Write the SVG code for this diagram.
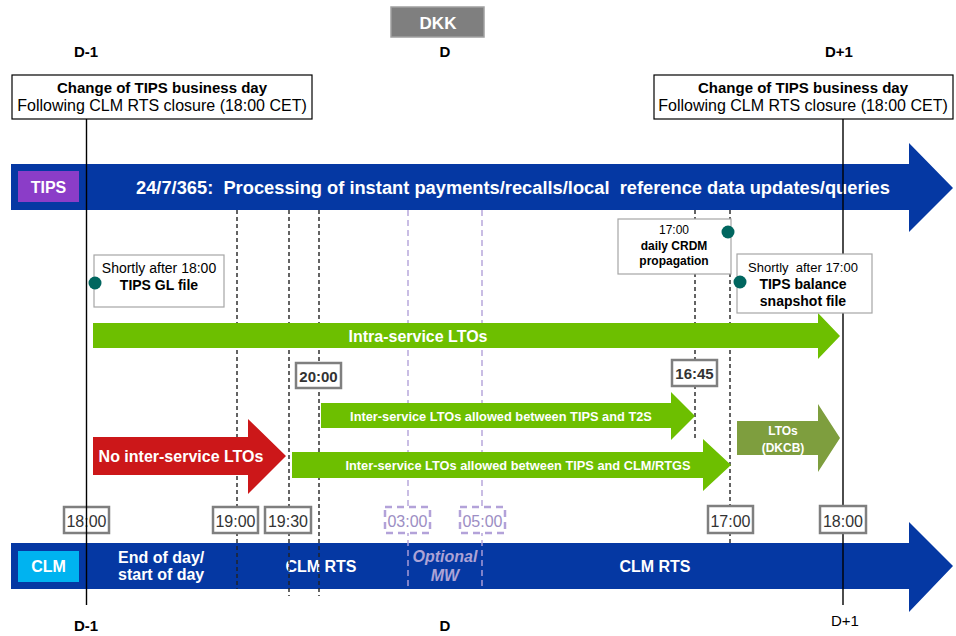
<svg xmlns="http://www.w3.org/2000/svg" width="956" height="636" viewBox="0 0 956 636">
<style>
text{font-family:"Liberation Sans",Arial,sans-serif;}
.b{font-weight:bold;}
.w{fill:#fff;}
.blue{fill:#0538A3;}
.green{fill:#6DBF00;}
.tb{fill:#fff;stroke:#7F7F7F;stroke-width:2.5;}
.tbp{fill:#fff;stroke:#B3A2D9;stroke-width:2.5;stroke-dasharray:7,5;}
.info{fill:#fff;stroke:#A6A6A6;stroke-width:1.2;}
.dot{fill:#00665F;}
.dk{stroke:#222;stroke-width:1.4;stroke-dasharray:4,3;fill:none;}
.dp{stroke:#B3A2D9;stroke-width:1.4;stroke-dasharray:6,4;fill:none;}
.sl{stroke:#000;stroke-width:1.4;fill:none;}
</style>

<g id="dkk">
<rect x="391" y="7" width="93" height="30" fill="#7F7F7F" stroke="#A0A0A0" stroke-width="1.5"/>
<text x="438" y="29" class="b w" font-size="17" text-anchor="middle">DKK</text>
</g>

<g id="day-labels" class="b" font-size="15" text-anchor="middle">
<text x="86" y="57">D-1</text>
<text x="445" y="57">D</text>
<text x="839" y="57">D+1</text>
<text x="86" y="631">D-1</text>
<text x="445" y="631">D</text>
<text x="845" y="626" font-weight="normal">D+1</text>
</g>

<g id="tips-bar">
<polygon class="blue" points="11,164 909,164 909,143 953,188 909,232 909,210 11,210"/>
<rect x="18" y="171" width="61" height="31" fill="#8B3DC8"/>
<text x="48.5" y="193" class="b w" font-size="16" text-anchor="middle">TIPS</text>
<text x="136" y="194" class="b w" font-size="18.3">24/7/365:&#160; Processing of instant payments/recalls/local&#160; reference data updates/queries</text>
</g>

<g id="clm-bar">
<polygon class="blue" points="11,543 909,543 909,522 953,566 909,612 909,589 11,589"/>
<rect x="18" y="551" width="61" height="31" fill="#00B3F0"/>
<text x="48.5" y="572" class="b w" font-size="16" text-anchor="middle">CLM</text>
<text x="118" y="563" class="b w" font-size="16">End of day/</text>
<text x="118" y="580" class="b w" font-size="16">start of day</text>
<text x="321" y="572" class="b w" font-size="16" text-anchor="middle">CLM RTS</text>
<text x="655" y="572" class="b w" font-size="16" text-anchor="middle">CLM RTS</text>
<text x="445" y="562" class="b" font-size="16" font-style="italic" fill="#ADA3D6" text-anchor="middle">Optional</text>
<text x="445" y="581" class="b" font-size="16" font-style="italic" fill="#ADA3D6" text-anchor="middle">MW</text>
</g>

<g id="connectors">
<line class="dk" x1="237" y1="210" x2="237" y2="589"/>
<line class="dk" x1="289" y1="210" x2="289" y2="596"/>
<line class="dk" x1="319" y1="210" x2="319" y2="596"/>
<line class="dp" x1="408" y1="210" x2="408" y2="589"/>
<line class="dp" x1="482" y1="210" x2="482" y2="589"/>
<line class="dk" x1="695" y1="210" x2="695" y2="439"/>
<line class="dk" x1="730" y1="210" x2="730" y2="544"/>
<line class="sl" x1="843" y1="119" x2="843" y2="605"/>
</g>

<g id="intra-ltos">
<polygon class="green" points="93,323 818,323 818,313 840,336 818,359 818,348 93,348"/>
<text x="418" y="342" class="b w" font-size="16" text-anchor="middle">Intra-service LTOs</text>
</g>

<g id="inter-t2s">
<polygon class="green" points="321,403 671,403 671,392 695,416 671,440 671,428 321,428"/>
<text x="501" y="421" class="b w" font-size="12.8" text-anchor="middle">Inter-service LTOs allowed between TIPS and T2S</text>
</g>

<g id="inter-clm">
<polygon class="green" points="292,452 703,452 703,439 731,465 703,491 703,478 292,478"/>
<text x="518" y="470" class="b w" font-size="12.8" text-anchor="middle">Inter-service LTOs allowed between TIPS and CLM/RTGS</text>
</g>

<g id="no-inter">
<polygon fill="#CC1719" points="93,437 248,437 248,419 286,456 248,494 248,475 93,475"/>
<text x="181" y="462" class="b w" font-size="16" text-anchor="middle">No inter-service LTOs</text>
</g>

<g id="dkcb">
<polygon fill="#7E9E3E" points="737,421 818,421 818,404 840,438 818,472 818,455 737,455"/>
<text x="783" y="435" class="b w" font-size="12" text-anchor="middle">LTOs</text>
<text x="783" y="452" class="b w" font-size="12" text-anchor="middle">(DKCB)</text>
</g>

<g id="box-d-1">
<rect x="12" y="75" width="300" height="44" fill="#fff" stroke="#000" stroke-width="1.2"/>
<text x="162" y="93" class="b" font-size="15" text-anchor="middle">Change of TIPS business day</text>
<text x="162" y="111" font-size="16" text-anchor="middle">Following CLM RTS closure (18:00 CET)</text>
</g>

<g id="box-d1">
<rect x="654" y="75" width="299" height="44" fill="#fff" stroke="#000" stroke-width="1.2"/>
<text x="803" y="93" class="b" font-size="15" text-anchor="middle">Change of TIPS business day</text>
<text x="803" y="111" font-size="16" text-anchor="middle">Following CLM RTS closure (18:00 CET)</text>
</g>

<g id="gl-file">
<rect class="info" x="94" y="255" width="130" height="52"/>
<text x="159" y="273" font-size="14" text-anchor="middle">Shortly after 18:00</text>
<text x="159" y="290" class="b" font-size="14" text-anchor="middle">TIPS GL file</text>
<circle class="dot" cx="95" cy="283" r="6.5"/>
</g>

<g id="crdm">
<rect class="info" x="618" y="219" width="113" height="55"/>
<text x="674" y="234" font-size="12" text-anchor="middle">17:00</text>
<text x="674" y="250" class="b" font-size="12" text-anchor="middle">daily CRDM</text>
<text x="674" y="265" class="b" font-size="12" text-anchor="middle">propagation</text>
<circle class="dot" cx="728" cy="232" r="6.5"/>
</g>

<g id="snapshot">
<rect class="info" x="737" y="254" width="135" height="59"/>
<text x="803" y="272" font-size="13" text-anchor="middle">Shortly&#160; after 17:00</text>
<text x="803" y="289" class="b" font-size="14" text-anchor="middle">TIPS balance</text>
<text x="803" y="306" class="b" font-size="14" text-anchor="middle">snapshot file</text>
<circle class="dot" cx="740" cy="282" r="6.5"/>
</g>

<g id="t2000">
<rect class="tb" x="296" y="363" width="45" height="25"/>
<text x="318.5" y="382" class="b" font-size="15" text-anchor="middle" fill="#333">20:00</text>
</g>
<g id="t1645">
<rect class="tb" x="672" y="360" width="45" height="26"/>
<text x="694.5" y="379" class="b" font-size="15" text-anchor="middle" fill="#333">16:45</text>
</g>

<g id="t1800a">
<rect class="tb" x="64" y="507" width="45" height="26"/>
<text x="86.5" y="527" font-size="16" text-anchor="middle" fill="#333">18:00</text>
</g>
<g id="t1900">
<rect class="tb" x="213" y="507" width="45" height="26"/>
<text x="235.5" y="527" font-size="16" text-anchor="middle" fill="#333">19:00</text>
</g>
<g id="t1930">
<rect class="tb" x="265" y="507" width="46" height="26"/>
<text x="288" y="527" font-size="16" text-anchor="middle" fill="#333">19:30</text>
</g>
<g id="t0300">
<rect class="tbp" x="385" y="507" width="45" height="26"/>
<text x="407.5" y="527" font-size="16" text-anchor="middle" fill="#9C8EC4">03:00</text>
</g>
<g id="t0500">
<rect class="tbp" x="460" y="507" width="45" height="26"/>
<text x="482.5" y="527" font-size="16" text-anchor="middle" fill="#9C8EC4">05:00</text>
</g>
<g id="t1700">
<rect class="tb" x="708" y="506" width="45" height="27"/>
<text x="730.5" y="527" font-size="16" text-anchor="middle" fill="#333">17:00</text>
</g>
<g id="t1800b">
<rect class="tb" x="820" y="506" width="46" height="27"/>
<text x="843" y="527" font-size="16" text-anchor="middle" fill="#333">18:00</text>
</g>

<g id="day-line-d-1">
<line class="sl" x1="86.5" y1="119" x2="86.5" y2="605"/>
</g>
</svg>
